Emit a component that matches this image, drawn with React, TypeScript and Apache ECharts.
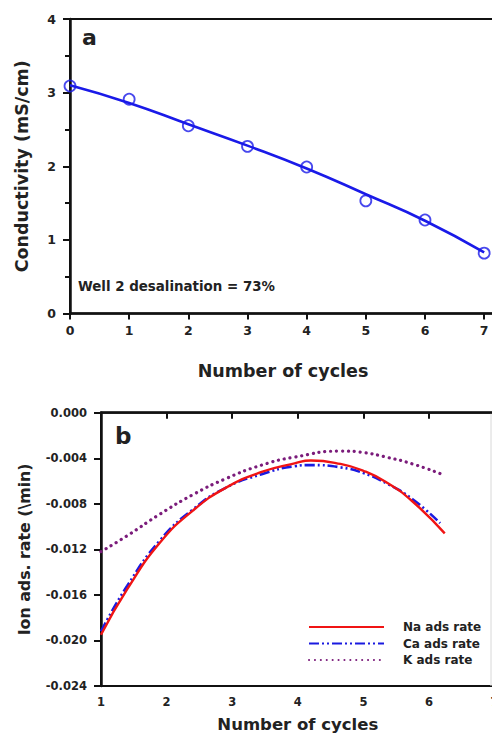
import React, { useEffect, useRef } from "react";
import * as echarts from "echarts";

// ---- Panel a: conductivity vs cycles ----
const cyclesA = [0, 1, 2, 3, 4, 5, 6, 7];
const conductivityMeasured = [3.09, 2.91, 2.55, 2.27, 1.99, 1.53, 1.27, 0.82];
const conductivityFit = [3.1, 2.86, 2.57, 2.28, 1.97, 1.62, 1.26, 0.83];

// ---- Panel b: ion adsorption rates ----
const naX = [1.0, 1.4, 1.9, 2.4, 2.9, 3.45, 3.95, 4.2, 4.65, 5.0, 5.35, 5.75, 6.24];
const naRate = [-0.0195, -0.0155, -0.0114, -0.0086, -0.0066, -0.0052, -0.00445, -0.0042, -0.0045, -0.0051, -0.0061, -0.0078, -0.0106];
const caX = [1.0, 1.4, 1.9, 2.4, 2.9, 3.45, 3.95, 4.2, 4.65, 5.0, 5.35, 5.75, 6.17];
const caRate = [-0.0192, -0.0152, -0.0112, -0.0085, -0.0066, -0.0054, -0.0047, -0.0046, -0.0048, -0.0053, -0.0062, -0.0076, -0.0097];
const kX = [1.0, 1.4, 1.9, 2.4, 2.9, 3.45, 3.95, 4.65, 5.0, 5.35, 5.75, 6.24];
const kRate = [-0.0122, -0.0108, -0.0089, -0.0072, -0.0058, -0.0046, -0.0039, -0.00337, -0.0035, -0.0039, -0.0045, -0.0055];

const seriesNames = ["Na ads rate", "Ca ads rate", "K ads rate"];

const FONT = "DejaVu Sans";
const AXIS = "#111";

const pairs = (xs: number[], ys: number[]) => xs.map((x, i) => [x, ys[i]]);

export default function App() {
  const ref = useRef<HTMLDivElement>(null);
  useEffect(() => {
    if (!ref.current) return;
    const chart = echarts.init(ref.current, undefined, { renderer: "svg" });
    const axisCommon = {
      axisLine: { lineStyle: { color: AXIS, width: 2.5 } },
      axisTick: { lineStyle: { color: AXIS, width: 2 } },
      splitLine: { show: false },
      axisLabel: { color: "#222", fontFamily: FONT, fontWeight: "bold" as const },
      nameTextStyle: { color: "#222", fontFamily: FONT, fontWeight: "bold" as const },
    };
    chart.setOption({
      animation: false,
      grid: [
        { left: 70, top: 19, width: 426, height: 294.5, show: true, borderColor: AXIS, borderWidth: 2, outerBoundsMode: "none", containLabel: false },
        { left: 101, top: 412.7, width: 393.6, height: 273.3, show: true, borderColor: AXIS, borderWidth: 2, outerBoundsMode: "none", containLabel: false },
      ],
      xAxis: [
        {
          ...axisCommon,
          gridIndex: 0,
          type: "value",
          min: 0,
          max: 7.2,
          interval: 1,
          axisTick: { ...axisCommon.axisTick, length: 6 },
          axisLabel: {
            ...axisCommon.axisLabel,
            fontSize: 12.5,
            margin: 10,
            formatter: (v: number) => (Number.isInteger(v) ? String(v) : ""),
          },
          name: "Number of cycles",
          nameLocation: "middle",
          nameGap: 48,
          nameTextStyle: { ...axisCommon.nameTextStyle, fontSize: 17.5 },
        },
        {
          ...axisCommon,
          gridIndex: 1,
          type: "value",
          min: 1,
          max: 7,
          interval: 1,
          axisTick: { ...axisCommon.axisTick, length: 6 },
          axisLabel: { ...axisCommon.axisLabel, fontSize: 11.5, margin: 10 },
          name: "Number of cycles",
          nameLocation: "middle",
          nameGap: 30,
          nameTextStyle: { ...axisCommon.nameTextStyle, fontSize: 16.5 },
        },
      ],
      yAxis: [
        {
          ...axisCommon,
          gridIndex: 0,
          type: "value",
          min: 0,
          max: 4,
          interval: 1,
          axisTick: { ...axisCommon.axisTick, length: 7 },
          minorTick: { show: true, splitNumber: 2, length: 5, lineStyle: { color: AXIS, width: 2 } },
          axisLabel: { ...axisCommon.axisLabel, fontSize: 12.5, margin: 14 },
          name: "Conductivity (mS/cm)",
          nameLocation: "middle",
          nameGap: 39,
          nameTextStyle: { ...axisCommon.nameTextStyle, fontSize: 17.5 },
        },
        {
          ...axisCommon,
          gridIndex: 1,
          type: "value",
          min: -0.024,
          max: 0,
          interval: 0.004,
          axisTick: { ...axisCommon.axisTick, length: 7 },
          axisLabel: {
            ...axisCommon.axisLabel,
            fontSize: 11.5,
            margin: 14,
            formatter: (v: number) => (Math.abs(v) < 1e-9 ? "0.000" : v.toFixed(3)),
          },
          name: "Ion ads. rate (\\min)",
          nameLocation: "middle",
          nameGap: 69,
          nameTextStyle: { ...axisCommon.nameTextStyle, fontSize: 15.8 },
        },
      ],
      legend: {
        data: seriesNames,
        orient: "vertical",
        left: 308,
        top: 621,
        padding: 0,
        itemWidth: 75,
        itemHeight: 14,
        itemGap: 4.5,
        itemStyle: { opacity: 0 },
        textStyle: { fontFamily: FONT, fontWeight: "bold", fontSize: 12, color: "#222", padding: [0, 0, 0, 14] },
      },
      series: [
        {
          type: "line",
          xAxisIndex: 0,
          yAxisIndex: 0,
          data: pairs(cyclesA, conductivityFit),
          smooth: true,
          symbol: "none",
          lineStyle: { color: "#1a1ae8", width: 2.6 },
          z: 2,
        },
        {
          type: "scatter",
          xAxisIndex: 0,
          yAxisIndex: 0,
          data: pairs(cyclesA, conductivityMeasured),
          symbol: "circle",
          symbolSize: 11,
          itemStyle: { color: "rgba(0,0,0,0)", borderColor: "#1a1ae8", borderWidth: 1.8 },
          z: 3,
        },
        {
          name: seriesNames[2],
          type: "line",
          xAxisIndex: 1,
          yAxisIndex: 1,
          data: pairs(kX, kRate),
          smooth: true,
          symbol: "none",
          color: "#7b1c7b",
          lineStyle: { color: "#7b1c7b", width: 3.2, type: [0.1, 5.8], cap: "round" },
          z: 2,
        },
        {
          name: seriesNames[1],
          type: "line",
          xAxisIndex: 1,
          yAxisIndex: 1,
          data: pairs(caX, caRate),
          smooth: true,
          symbol: "none",
          color: "#1a1ae0",
          lineStyle: { color: "#1a1ae0", width: 2.6, type: [10, 3, 2, 3, 2, 3] },
          z: 3,
        },
        {
          name: seriesNames[0],
          type: "line",
          xAxisIndex: 1,
          yAxisIndex: 1,
          data: pairs(naX, naRate),
          smooth: true,
          symbol: "none",
          color: "#f01414",
          lineStyle: { color: "#f01414", width: 2.4 },
          z: 4,
        },
      ],
      graphic: [
        {
          type: "text",
          left: 82,
          top: 26,
          style: { text: "a", fontFamily: FONT, fontWeight: "bold", fontSize: 22, fill: "#222" },
        },
        {
          type: "text",
          left: 115,
          top: 424,
          style: { text: "b", fontFamily: FONT, fontWeight: "bold", fontSize: 23, fill: "#222" },
        },
        {
          type: "text",
          left: 78,
          top: 280,
          style: { text: "Well 2 desalination = 73%", fontFamily: FONT, fontWeight: "bold", fontSize: 13.4, fill: "#222" },
        },
        {
          type: "line",
          shape: { x1: 491, y1: 413, x2: 491, y2: 686 },
          style: { stroke: "#d8d8d8", lineWidth: 1 },
        },
      ],
    });
    return () => chart.dispose();
  }, []);
  return <div ref={ref} style={{ position: "absolute", left: 0, top: 0, width: 492, height: 735 }} />;
}
